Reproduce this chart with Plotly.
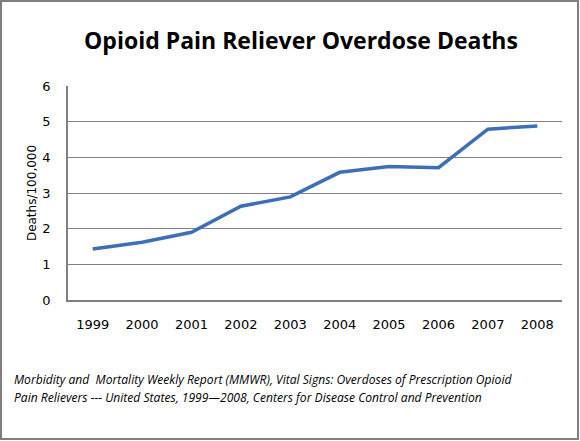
import plotly.graph_objects as go

# data
years = ['1999', '2000', '2001', '2002', '2003', '2004', '2005', '2006', '2007', '2008']
deaths = [1.43, 1.62, 1.90, 2.63, 2.89, 3.58, 3.74, 3.71, 4.79, 4.88]
y_ticks = [0, 1, 2, 3, 4, 5, 6]

W, H = 580, 441
ml, mr, mt, mb = 68, 18, 86, 141
pw, ph = W - ml - mr, H - mt - mb

source_lines = [
    'Morbidity and  Mortality Weekly Report (MMWR), Vital Signs: Overdoses of Prescription Opioid',
    'Pain Relievers --- United States, 1999\u20142008, Centers for Disease Control and Prevention',
]


def px_x(x):
    # pixel -> paper x
    return (x - ml) / pw


def px_y(y):
    # pixel (from top) -> paper y
    return (mt + ph - y) / ph


trace = go.Scatter(
    x=years,
    y=deaths,
    mode='lines',
    line=dict(color='#3C70B6', width=3.5),
    hoverinfo='x+y'
)

notes = []
for i, line in enumerate(source_lines):
    notes.append(dict(
        text='<i>' + line + '</i>',
        xref='paper', yref='paper',
        x=px_x(12), y=px_y(379 + 18 * i),
        xanchor='left', yanchor='middle', align='left', showarrow=False,
        font=dict(family='Open Sans, sans-serif', size=12.1, color='black')
    ))

layout = go.Layout(
    width=W, height=H,
    margin=dict(l=ml, r=mr, t=mt, b=mb),
    paper_bgcolor='white',
    plot_bgcolor='white',
    showlegend=False,
    font=dict(family='DejaVu Sans, sans-serif', color='black'),
    title=dict(
        text='<b>Opioid Pain Reliever Overdose Deaths</b>',
        font=dict(family='Open Sans, sans-serif', size=23, color='black'),
        x=px_x(301), xref='paper', xanchor='center',
        y=1 - 41 / H, yref='container', yanchor='middle'
    ),
    xaxis=dict(
        type='category',
        range=[-0.5, 9.5],
        showgrid=False,
        showline=True, linecolor='#808080', linewidth=1.5,
        ticks='', ticklabelstandoff=12,
        tickfont=dict(size=13)
    ),
    yaxis=dict(
        range=[0, 6],
        tickvals=y_ticks,
        showgrid=True, gridcolor='#808080', gridwidth=1.3,
        showline=True, linecolor='#808080', linewidth=1.5,
        zeroline=False,
        ticks='', ticklabelstandoff=13,
        tickfont=dict(size=13),
        title=dict(text='Deaths/100,000', font=dict(size=12), standoff=3)
    ),
    annotations=notes,
    shapes=[dict(
        type='rect', xref='paper', yref='paper',
        x0=px_x(1), x1=px_x(W - 2),
        y0=px_y(H - 2), y1=px_y(1),
        line=dict(color='#7F7F7F', width=2), fillcolor='rgba(0,0,0,0)',
        layer='below'
    )]
)

fig = go.Figure(data=[trace], layout=layout)
# drop the default body margin so the figure sits at the window's corner
fig.write_html("out.html", config={'displayModeBar': False},
               post_script="document.body.style.margin='0';")
